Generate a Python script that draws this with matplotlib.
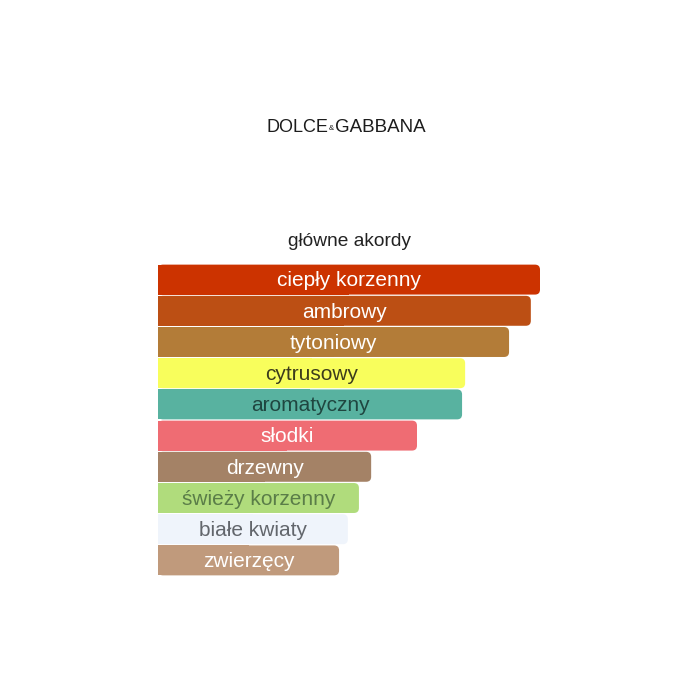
import matplotlib
matplotlib.use("Agg")
import matplotlib.pyplot as plt
from matplotlib.patches import FancyBboxPatch

plt.rcParams['font.family'] = ['Liberation Sans', 'DejaVu Sans']

# glowne akordy (dlugosc paska w % najdluzszego)
akordy = ["ciepły korzenny", "ambrowy", "tytoniowy", "cytrusowy", "aromatyczny",
          "słodki", "drzewny", "świeży korzenny", "białe kwiaty", "zwierzęcy"]
wartosci = [100, 97.6, 91.9, 80.4, 79.6, 67.8, 55.8, 52.6, 49.7, 47.4]
kolory = ["#cc3300", "#bc4f14", "#b37c38", "#f8fe5c", "#58b2a0",
          "#ef6c73", "#a48266", "#b0dc7c", "#eff4fb", "#c09a7c"]
kolory_tekstu = ["#ffffff", "#ffffff", "#ffffff", "#3c3c1c", "#1f4640",
                 "#ffffff", "#ffffff", "#5a7d48", "#62666c", "#ffffff"]

fig = plt.figure(figsize=(7, 7), dpi=100)
fig.patch.set_facecolor("white")

# logo + naglowek
y_logo = 1 - 127 / 700
fig.text(328 / 700, y_logo, "DOLCE", ha="right", va="center", fontsize=13,
         color="#1c1c1c", fontweight="medium")
fig.text(331.5 / 700, 1 - 129 / 700, "&", ha="center", va="center", fontsize=5.5,
         color="#1c1c1c")
fig.text(335 / 700, y_logo, "GABBANA", ha="left", va="center", fontsize=13.5,
         color="#1c1c1c", fontweight="medium")
fig.text(349 / 700, 1 - 242 / 700, "główne akordy", ha="center", va="center",
         fontsize=13.8, color="#222222")

n = len(akordy)
ax = fig.add_axes([158 / 700, 1 - 576 / 700, 382 / 700, 312 / 700])
ax.set_xlim(0, 100)
ax.set_ylim(n - 0.5, -0.5)
ax.axis("off")

h = 0.96
# aspekt: jednostek y na jednostke x
asp = (n / 312) / (100 / 382)
r = 5 * 100 / 382
for i, (nazwa, v, c, tc) in enumerate(zip(akordy, wartosci, kolory, kolory_tekstu)):
    # zaokraglony prawy koniec, lewy prosty
    p = FancyBboxPatch((0, i - h / 2), v, h,
                       boxstyle=f"round,pad=0,rounding_size={r}",
                       mutation_aspect=asp, fc=c, ec="none")
    ax.add_patch(p)
    ax.barh(i, v / 2, height=h, left=0, color=c, edgecolor="none")
    ax.text(v / 2, i + 0.04, nazwa, ha="center", va="center", fontsize=15, color=tc)

fig.savefig("out.png", dpi=100)
